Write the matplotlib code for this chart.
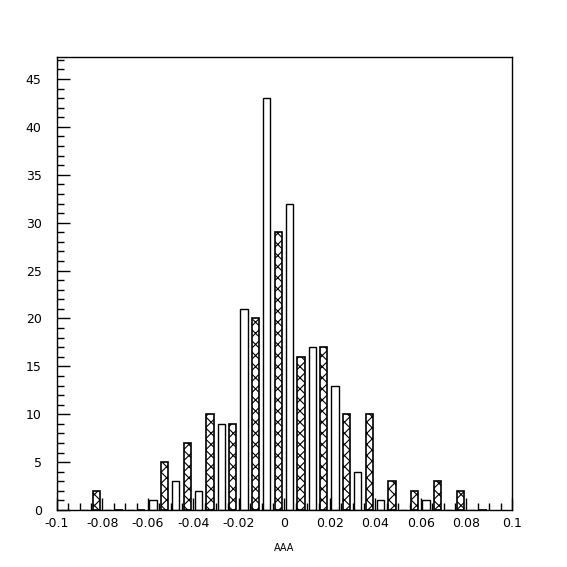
import matplotlib
matplotlib.use('Agg')
import matplotlib.pyplot as plt
from matplotlib.ticker import MultipleLocator

# bin lower edges (width 0.01) and counts for the two samples
bin_edges = [-0.09, -0.08, -0.07, -0.06, -0.05, -0.04, -0.03, -0.02, -0.01,
             0.00, 0.01, 0.02, 0.03, 0.04, 0.05, 0.06, 0.07, 0.08]
open_counts = [0, 0, 0, 1, 3, 2, 9, 21, 43, 32, 17, 13, 4, 1, 0, 1, 0, 0]
hatch_counts = [2, 0, 0, 5, 7, 10, 9, 20, 29, 16, 17, 10, 10, 3, 2, 3, 2, 0]

x_ticks = [-0.1, -0.08, -0.06, -0.04, -0.02, 0, 0.02, 0.04, 0.06, 0.08, 0.1]
x_tick_labels = ['-0.1', '-0.08', '-0.06', '-0.04', '-0.02', '0',
                 '0.02', '0.04', '0.06', '0.08', '0.1']
y_ticks = [0, 5, 10, 15, 20, 25, 30, 35, 40, 45]

binw = 0.01
plt.rcParams['hatch.linewidth'] = 0.8

fig = plt.figure(figsize=(5.67, 5.67), dpi=100)
ax = fig.add_axes([0.1005, 0.1005, 0.8025, 0.799])

xo = [e + 0.06 * binw for e in bin_edges]
xh = [e + 0.57 * binw for e in bin_edges]
ax.bar(xo, open_counts, width=0.32 * binw, align='edge',
       facecolor='white', edgecolor='black', linewidth=1.0)
ax.bar(xh, hatch_counts, width=0.32 * binw, align='edge',
       facecolor='white', edgecolor='black', linewidth=1.2, hatch='xxx')

ax.set_xlim(-0.1, 0.1)
ax.set_ylim(0, 47.3)
ax.set_xticks(x_ticks)
ax.set_xticklabels(x_tick_labels)
ax.set_yticks(y_ticks)
ax.xaxis.set_minor_locator(MultipleLocator(0.005))
ax.yaxis.set_minor_locator(MultipleLocator(1))
ax.tick_params(which='both', direction='in', top=False, right=False,
               labelsize=9, width=1)
ax.tick_params(which='major', length=9)
ax.tick_params(which='minor', length=5)
ax.tick_params(axis='y', which='major', pad=11)
ax.tick_params(axis='x', which='major', pad=5)
for s in ax.spines.values():
    s.set_linewidth(1.0)

ax.set_xlabel('AAA', fontsize=7, va='center')
ax.xaxis.set_label_coords(0.5, -0.084)

fig.savefig('out.png', dpi=100)
